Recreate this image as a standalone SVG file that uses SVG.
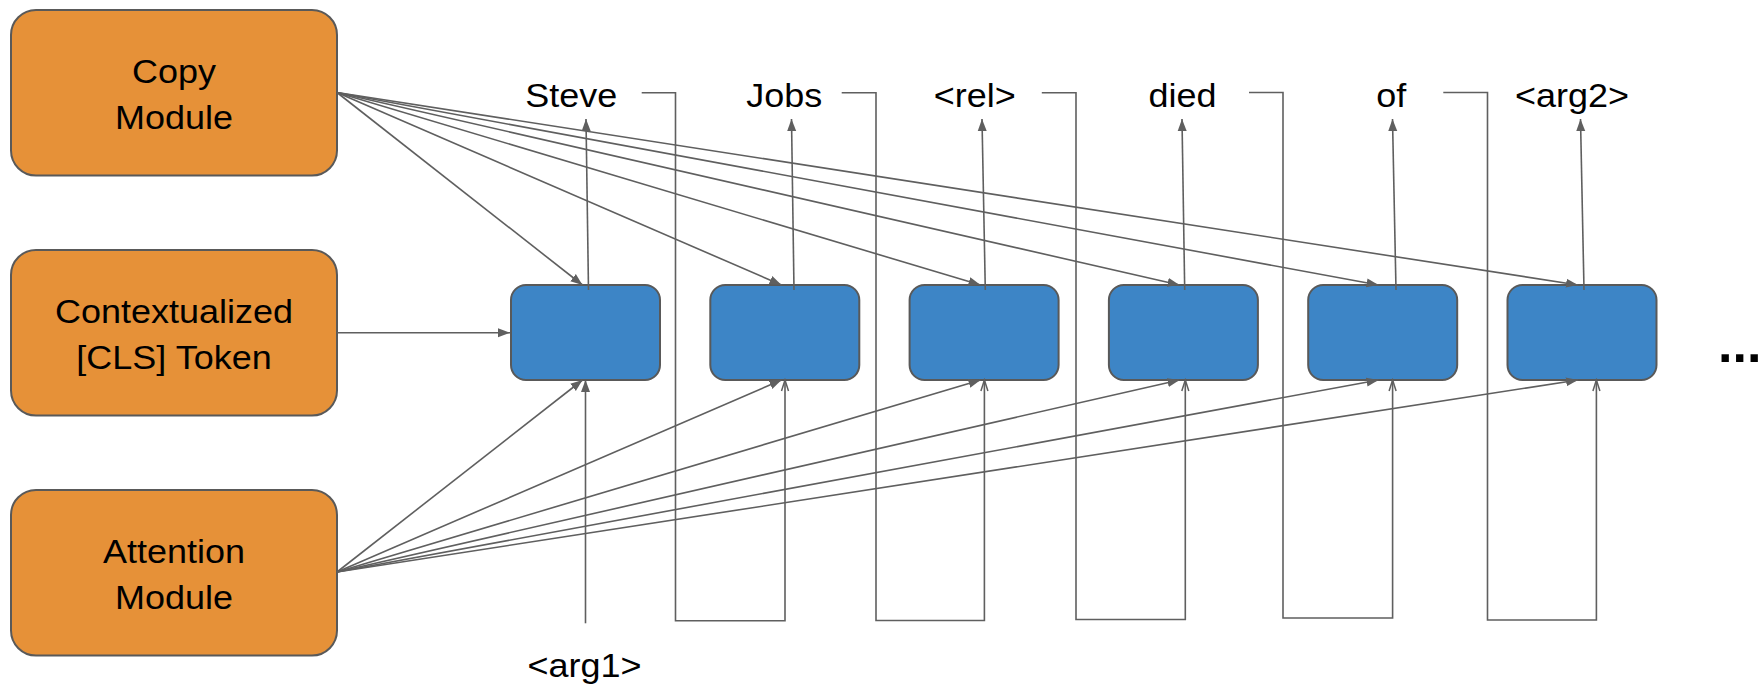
<svg xmlns="http://www.w3.org/2000/svg" width="1759" height="688" viewBox="0 0 1759 688">
  <style>
    .mod { fill: #e69138; stroke: #595959; stroke-width: 2; }
    .cell { fill: #3d85c6; stroke: #595959; stroke-width: 2; }
    .t { font-family: "Liberation Sans", Arial, sans-serif; font-size: 36px; fill: #000; text-anchor: middle; }
    .dots { font-family: "Liberation Sans", Arial, sans-serif; font-size: 52px; font-weight: bold; fill: #000; }
    .ln { fill: none; stroke: #5f5f5f; stroke-width: 1.6; }
    .arr { marker-end: url(#head); }
    .open { marker-end: url(#headOpen); }
  </style>
  <defs>
    <marker id="head" markerUnits="userSpaceOnUse" markerWidth="14" markerHeight="12" refX="12" refY="5" orient="auto">
      <path d="M0,0.5 L12,5 L0,9.5 z" fill="#5f5f5f"/>
    </marker>
    <marker id="headOpen" markerUnits="userSpaceOnUse" markerWidth="14" markerHeight="12" refX="12" refY="5" orient="auto">
      <path d="M1,1.5 L12,5 L1,8.5" fill="none" stroke="#5f5f5f" stroke-width="1.5"/>
    </marker>
  </defs>

  <rect width="1759" height="688" fill="#fff"/>

  <!-- module boxes -->
  <g id="copy-module">
    <rect class="mod" x="11" y="10" width="326" height="165.5" rx="25"/>
    <text class="t" transform="translate(174,83.3) scale(1,0.9)">Copy</text>
    <text class="t" transform="translate(174,129) scale(1,0.9)">Module</text>
  </g>
  <g id="cls-token">
    <rect class="mod" x="11" y="250" width="326" height="165.5" rx="25"/>
    <text class="t" transform="translate(174,323.3) scale(1,0.9)">Contextualized</text>
    <text class="t" transform="translate(174,369) scale(1,0.9)">[CLS] Token</text>
  </g>
  <g id="attention-module">
    <rect class="mod" x="11" y="490" width="326" height="165.5" rx="25"/>
    <text class="t" transform="translate(174,563.3) scale(1,0.9)">Attention</text>
    <text class="t" transform="translate(174,609) scale(1,0.9)">Module</text>
  </g>

  <!-- decoder cells -->
  <g id="cell-1"><rect class="cell" x="511" y="285" width="149" height="95" rx="15"/></g>
  <g id="cell-2"><rect class="cell" x="710.3" y="285" width="149" height="95" rx="15"/></g>
  <g id="cell-3"><rect class="cell" x="909.6" y="285" width="149" height="95" rx="15"/></g>
  <g id="cell-4"><rect class="cell" x="1108.9" y="285" width="149" height="95" rx="15"/></g>
  <g id="cell-5"><rect class="cell" x="1308.2" y="285" width="149" height="95" rx="15"/></g>
  <g id="cell-6"><rect class="cell" x="1507.5" y="285" width="149" height="95" rx="15"/></g>

  <!-- output tokens -->
  <g id="tok-steve"><text class="t" transform="translate(571.2,106.7) scale(1,0.9)">Steve</text></g>
  <g id="tok-jobs"><text class="t" transform="translate(784.3,106.7) scale(1,0.9)">Jobs</text></g>
  <g id="tok-rel"><text class="t" transform="translate(974.7,106.7) scale(1,0.9)">&lt;rel&gt;</text></g>
  <g id="tok-died"><text class="t" transform="translate(1182.5,106.7) scale(1,0.9)">died</text></g>
  <g id="tok-of"><text class="t" transform="translate(1391.3,106.7) scale(1,0.9)">of</text></g>
  <g id="tok-arg2"><text class="t" transform="translate(1572,106.7) scale(1,0.9)">&lt;arg2&gt;</text></g>
  <g id="tok-arg1"><text class="t" transform="translate(584.5,677.3) scale(1,0.9)">&lt;arg1&gt;</text></g>
  <g id="ellipsis"><text class="dots" x="1718" y="362.3">...</text></g>

  <!-- connectors -->
  <g id="connectors">
    <!-- copy module fan-out -->
    <path class="ln arr" d="M337,92.5 L582.5,285"/>
    <path class="ln arr" d="M337,92.5 L781.5,285"/>
    <path class="ln arr" d="M337,92.5 L980.5,285"/>
    <path class="ln arr" d="M337,92.5 L1179.5,285"/>
    <path class="ln arr" d="M337,92.5 L1378.5,285"/>
    <path class="ln arr" d="M337,92.5 L1578,285"/>
    <!-- attention module fan-out -->
    <path class="ln arr" d="M337,572 L582.5,380"/>
    <path class="ln arr" d="M337,572 L781.5,380"/>
    <path class="ln arr" d="M337,572 L980.5,380"/>
    <path class="ln arr" d="M337,572 L1179.5,380"/>
    <path class="ln arr" d="M337,572 L1378.5,380"/>
    <path class="ln arr" d="M337,572 L1578,380"/>
    <!-- CLS token into first cell -->
    <path class="ln arr" d="M337,332.7 L510,332.7"/>
    <!-- cell outputs -->
    <path class="ln arr" d="M588.5,290 L586,119"/>
    <path class="ln arr" d="M794,290 L791.5,119"/>
    <path class="ln arr" d="M985.3,290 L982,119"/>
    <path class="ln arr" d="M1184.7,290 L1182,119"/>
    <path class="ln arr" d="M1396,290 L1392.5,119"/>
    <path class="ln arr" d="M1584,290 L1580.5,119"/>
    <!-- first input -->
    <path class="ln arr" d="M585.5,623.3 L585.5,380"/>
    <!-- feedback of each token into the next cell -->
    <path class="ln open" d="M641.7,92.7 H675.5 V620.7 H785 V380"/>
    <path class="ln open" d="M841.7,92.7 H876 V620.5 H984.4 V380"/>
    <path class="ln open" d="M1041.8,92.7 H1076 V619.5 H1185.3 V380"/>
    <path class="ln open" d="M1249,92.5 H1283 V618 H1392.6 V380"/>
    <path class="ln open" d="M1443.3,92.5 H1487.5 V620 H1596.4 V380"/>
  </g>
</svg>
